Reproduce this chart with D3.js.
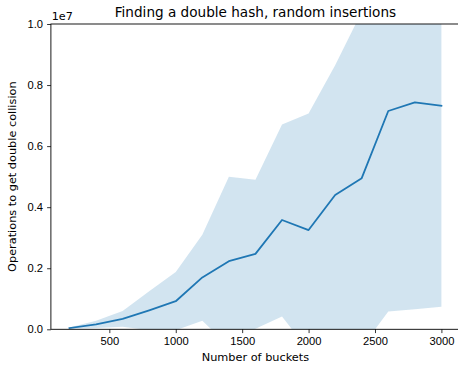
<!DOCTYPE html>
<html>
<head>
<meta charset="utf-8">
<script src="https://cdn.jsdelivr.net/npm/d3@7"></script>
<style>
  body { margin: 0; background: white; }
  svg { display: block; font-family: "DejaVu Sans", sans-serif; }
  .tick text { font-size: 11.2px; fill: #000; }
  .tick line { stroke: #000; stroke-width: 0.8; }
  .domain { display: none; }
</style>
</head>
<body>
<div id="chart"></div>
<script>
// Data (ops in units of 1e7)
const buckets = [200, 400, 600, 800, 1000, 1200, 1400, 1600, 1800, 2000, 2200, 2400, 2600, 2800, 3000];
const meanOps = [0.004, 0.016, 0.034, 0.062, 0.092, 0.170, 0.223, 0.247, 0.358, 0.325, 0.440, 0.495, 0.715, 0.743, 0.732];
const upperOps = [0.006, 0.028, 0.060, 0.125, 0.188, 0.310, 0.500, 0.490, 0.671, 0.707, 0.865, 1.040, 1.370, 1.420, 1.390];
const lowerOps = [0.002, 0.004, 0.008, -0.003, -0.003, 0.028, -0.055, 0.002, 0.042, -0.070, -0.050, -0.059, 0.058, 0.066, 0.074];
const xTicks = [500, 1000, 1500, 2000, 2500, 3000];
const yTicks = [0, 0.2, 0.4, 0.6, 0.8, 1.0];

const width = 458, height = 368;
const margin = { top: 24, right: -2, bottom: 38.7, left: 50.9 };
const innerW = width - margin.left - margin.right;
const innerH = height - margin.top - margin.bottom;

const svg = d3.select('#chart').append('svg')
  .attr('width', width)
  .attr('height', height);

const g = svg.append('g').attr('transform', `translate(${margin.left},${margin.top})`);

// matplotlib-style 5% margin on x
const x = d3.scaleLinear().domain([60, 3140]).range([0, innerW]);
const y = d3.scaleLinear().domain([0, 1.0]).range([innerH, 0]);

const rows = buckets.map((b, i) => ({ b, m: meanOps[i], lo: lowerOps[i], hi: upperOps[i] }));

g.append('clipPath').attr('id', 'clip')
  .append('rect').attr('width', innerW).attr('height', innerH);

// std band
g.append('path')
  .datum(rows)
  .attr('clip-path', 'url(#clip)')
  .attr('fill', '#1f77b4')
  .attr('fill-opacity', 0.2)
  .attr('d', d3.area().x(d => x(d.b)).y0(d => y(d.lo)).y1(d => y(d.hi)));

// mean line
g.append('path')
  .datum(rows)
  .attr('clip-path', 'url(#clip)')
  .attr('fill', 'none')
  .attr('stroke', '#1f77b4')
  .attr('stroke-width', 1.8)
  .attr('stroke-linejoin', 'round')
  .attr('stroke-linecap', 'square')
  .attr('d', d3.line().x(d => x(d.b)).y(d => y(d.m)));

// axes
g.append('g')
  .attr('transform', `translate(0,${innerH})`)
  .call(d3.axisBottom(x).tickValues(xTicks).tickSize(3.8).tickPadding(4).tickFormat(d3.format('d')));

g.append('g')
  .call(d3.axisLeft(y).tickValues(yTicks).tickSize(3.8).tickPadding(4).tickFormat(d3.format('.1f')));

// spines
const spine = g.append('g').attr('fill', 'none').attr('stroke', '#000').attr('stroke-width', 0.9);
spine.append('rect').attr('width', innerW).attr('height', innerH);

// texts
svg.append('text')
  .attr('x', margin.left + innerW / 2)
  .attr('y', 17)
  .attr('text-anchor', 'middle')
  .attr('font-size', 13.6)
  .text('Finding a double hash, random insertions');

svg.append('text')
  .attr('x', margin.left + 0.8)
  .attr('y', 20)
  .attr('font-size', 11.2)
  .text('1e7');

svg.append('text')
  .attr('x', margin.left + innerW / 2)
  .attr('y', 361)
  .attr('text-anchor', 'middle')
  .attr('font-size', 11.3)
  .text('Number of buckets');

svg.append('text')
  .attr('transform', `translate(16,${margin.top + innerH / 2}) rotate(-90)`)
  .attr('text-anchor', 'middle')
  .attr('font-size', 11.3)
  .text('Operations to get double collision');
</script>
</body>
</html>
